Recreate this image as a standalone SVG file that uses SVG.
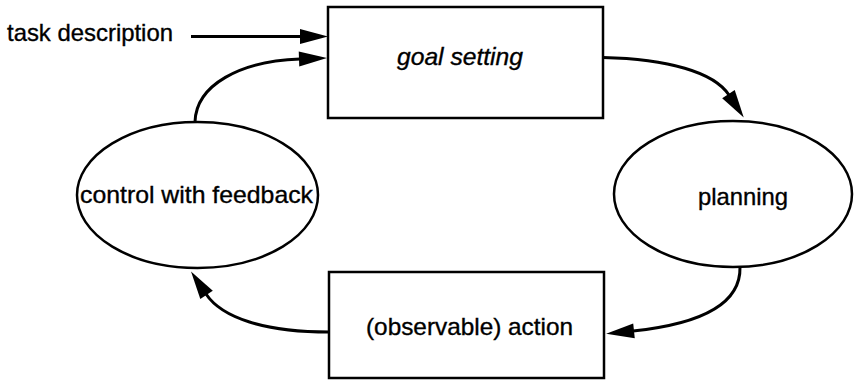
<svg xmlns="http://www.w3.org/2000/svg" width="854" height="381" viewBox="0 0 854 381">
  <style>
    .shape { fill: #fff; stroke: #000; stroke-width: 2.5; }
    .label { font-family: "Liberation Sans", Arial, Helvetica, sans-serif; font-size: 24px; fill: #000; stroke: #000; stroke-width: 0.35; }
    .italic { font-style: italic; }
    .edge { fill: none; stroke: #000; stroke-width: 3; marker-end: url(#head); }
  </style>
  <defs>
    <!-- filled arrowhead; its base sits at the path end and the tip points along the tangent -->
    <marker id="head" viewBox="-1 -7.5 28 15" refX="0" refY="0" markerWidth="28" markerHeight="15" markerUnits="userSpaceOnUse" orient="auto" overflow="visible">
      <path d="M-1,-7.5 L27,0 L-1,7.5 z" fill="#000"/>
    </marker>
  </defs>

  <g id="task-description">
    <text class="label" x="7" y="41" textLength="166" lengthAdjust="spacingAndGlyphs">task description</text>
  </g>

  <g id="goal-setting">
    <rect class="shape" x="328" y="7" width="275" height="111"/>
    <text class="label italic" x="397" y="65" textLength="126" lengthAdjust="spacingAndGlyphs">goal setting</text>
  </g>

  <g id="planning">
    <ellipse class="shape" cx="733" cy="194" rx="119" ry="73"/>
    <text class="label" x="698" y="205" textLength="90" lengthAdjust="spacingAndGlyphs">planning</text>
  </g>

  <g id="action">
    <rect class="shape" x="329" y="272" width="275" height="106"/>
    <text class="label" x="366" y="335" textLength="207" lengthAdjust="spacingAndGlyphs">(observable) action</text>
  </g>

  <g id="control-with-feedback">
    <ellipse class="shape" cx="197.5" cy="195" rx="120.5" ry="73"/>
    <text class="label" x="80" y="203" textLength="233" lengthAdjust="spacingAndGlyphs">control with feedback</text>
  </g>

  <g id="connectors">
    <path class="edge" d="M191,36.5 L301,36.5"/>
    <path class="edge" d="M195,122 C196,85 240,61 300,59"/>
    <path class="edge" d="M603,57.5 C668,59 714,72 729,95"/>
    <path class="edge" d="M740,267 C741,305 700,324 633,331"/>
    <path class="edge" d="M329,332 C265,332 222,318 206,294"/>
  </g>
</svg>
